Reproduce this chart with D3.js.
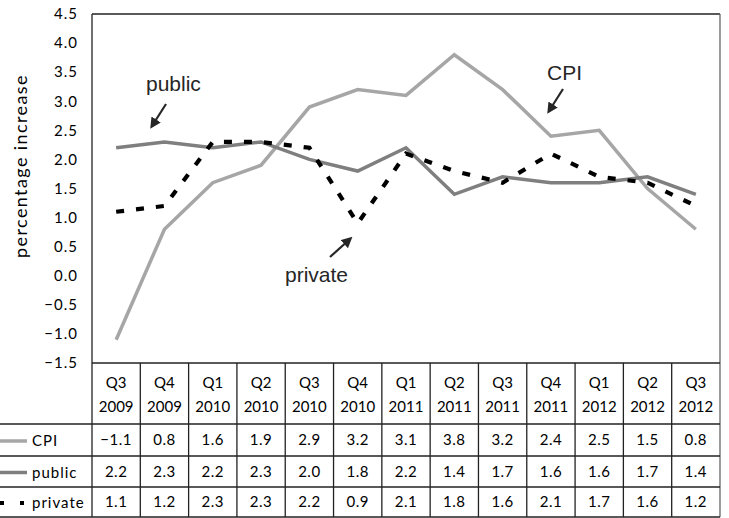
<!DOCTYPE html>
<html><head><meta charset="utf-8">
<script src="https://cdn.jsdelivr.net/npm/d3@7/dist/d3.min.js"></script>
<style>body{margin:0;background:#fff}svg{display:block}</style>
</head><body>
<script>
const quarters = ["Q3","Q4","Q1","Q2","Q3","Q4","Q1","Q2","Q3","Q4","Q1","Q2","Q3"];
const years = ["2009","2009","2010","2010","2010","2010","2011","2011","2011","2011","2012","2012","2012"];
const cpi = [-1.1,0.8,1.6,1.9,2.9,3.2,3.1,3.8,3.2,2.4,2.5,1.5,0.8];
const publicS = [2.2,2.3,2.2,2.3,2.0,1.8,2.2,1.4,1.7,1.6,1.6,1.7,1.4];
const privateS = [1.1,1.2,2.3,2.3,2.2,0.9,2.1,1.8,1.6,2.1,1.7,1.6,1.2];
const yTicks = [4.5,4.0,3.5,3.0,2.5,2.0,1.5,1.0,0.5,0.0,-0.5,-1.0,-1.5];
const seriesNames = ["CPI","public","private"];

const W = 729, H = 518;
const L = 92, R = 720, T = 14, B = 363;
const rowY = [363, 424, 456, 487, 517];
const svg = d3.select("body").append("svg").attr("width", W).attr("height", H);

const idx = d3.range(quarters.length);
const x = d3.scaleBand().domain(idx).range([L, R]);
const y = d3.scaleLinear().domain([-1.5, 4.5]).range([B, T]);
const cx = i => x(i) + x.bandwidth() / 2;

const series = [
  {name: "CPI", data: cpi, color: "#a6a6a6", dash: null, w: 3.5},
  {name: "public", data: publicS, color: "#7f7f7f", dash: null, w: 3.5},
  {name: "private", data: privateS, color: "#000", dash: "8,12", w: 4.2}
];

const tickFont = "Lato, 'Open Sans', sans-serif";

// y axis labels
const yAxis = d3.axisLeft(y).tickValues(yTicks).tickSize(0).tickPadding(14).tickFormat(d3.format(".1f"));
const ga = svg.append("g").attr("transform", `translate(${L},0)`).call(yAxis);
ga.select(".domain").remove();
ga.selectAll("text").attr("font-family", tickFont).attr("font-size", 15).attr("fill", "#000").attr("letter-spacing", "1px");

svg.append("text").attr("transform", `translate(27,166) rotate(-90)`)
  .attr("text-anchor", "middle").attr("font-family", tickFont).attr("font-size", 18).attr("fill", "#000")
  .attr("letter-spacing", "1.4px")
  .text("percentage increase");

// lines
const line = d3.line().x((d, i) => cx(i)).y(d => y(d));
series.forEach(s => {
  svg.append("path").datum(s.data).attr("d", line).attr("fill", "none")
    .attr("stroke", s.color).attr("stroke-width", s.w)
    .attr("stroke-dasharray", s.dash);
});

// frame
const frame = svg.append("g").attr("stroke", "#222").attr("stroke-width", 1.3).attr("fill", "none");
frame.append("line").attr("x1", L).attr("x2", R).attr("y1", T).attr("y2", T);
frame.append("line").attr("x1", L).attr("x2", L).attr("y1", T).attr("y2", rowY[4]);
frame.append("line").attr("x1", R).attr("x2", R).attr("y1", T).attr("y2", rowY[4]).attr("stroke", "#666");
frame.append("line").attr("x1", L).attr("x2", R).attr("y1", rowY[0]).attr("y2", rowY[0]);
for (let k = 1; k < 5; k++) frame.append("line").attr("x1", 0).attr("x2", R).attr("y1", rowY[k]).attr("y2", rowY[k]);
idx.slice(1).forEach(i => frame.append("line").attr("x1", x(i)).attr("x2", x(i)).attr("y1", rowY[0]).attr("y2", rowY[4]));

// header
const tbl = svg.append("g").attr("font-family", tickFont).attr("font-size", 15).attr("fill", "#000").attr("text-anchor", "middle");
idx.forEach(i => {
  tbl.append("text").attr("x", cx(i)).attr("y", 388).text(quarters[i]);
  tbl.append("text").attr("x", cx(i)).attr("y", 412).text(years[i]);
});
series.forEach((s, k) => {
  const yc = (rowY[k+1] + rowY[k+2]) / 2;
  s.data.forEach((v, i) => {
    tbl.append("text").attr("x", cx(i)).attr("y", yc + 5).attr("letter-spacing", "0.5px").text(d3.format(".1f")(v));
  });
  svg.append("line").attr("x1", 0).attr("x2", 27).attr("y1", yc + 1).attr("y2", yc + 1)
    .attr("stroke", s.color).attr("stroke-width", s.w).attr("stroke-dasharray", s.dash ? "4,16" : null);
  svg.append("text").attr("x", 32).attr("y", yc + 6).attr("font-family", tickFont).attr("font-size", 15)
    .attr("letter-spacing", "1px").text(seriesNames[k]);
});

// annotations
const ann = svg.append("g").attr("font-family", "'Liberation Sans', Arial, sans-serif").attr("font-size", 21).attr("fill", "#262626");
const defs = svg.append("defs");
defs.append("marker").attr("id", "ah").attr("viewBox", "0 0 10 10").attr("refX", 7).attr("refY", 5)
  .attr("markerWidth", 5).attr("markerHeight", 5).attr("orient", "auto")
  .append("path").attr("d", "M0,0 L10,5 L0,10 z").attr("fill", "#262626");
const annots = [
  {t: "public", tx: 146, ty: 91, x1: 166, y1: 104, x2: 152, y2: 126},
  {t: "CPI", tx: 547, ty: 80, x1: 563, y1: 89, x2: 549, y2: 111},
  {t: "private", tx: 285, ty: 282, x1: 330, y1: 257, x2: 350, y2: 239}
];
annots.forEach(a => {
  ann.append("text").attr("x", a.tx).attr("y", a.ty).text(a.t);
  svg.append("line").attr("x1", a.x1).attr("y1", a.y1).attr("x2", a.x2).attr("y2", a.y2)
    .attr("stroke", "#262626").attr("stroke-width", 2.2).attr("marker-end", "url(#ah)");
});
</script>
</body></html>
